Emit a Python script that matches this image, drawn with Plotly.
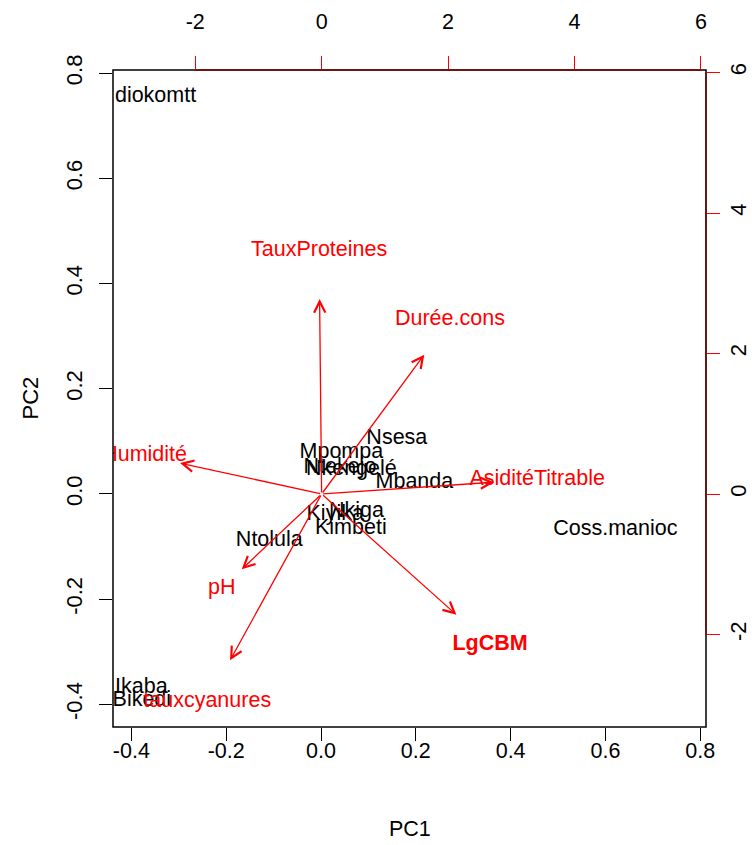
import plotly.graph_objects as go

# Observation scores (PC1, PC2)
obs_names = ["diokomtt", "Nsesa", "Mpompa", "Ntekejo", "Nkengelé", "Mbanda",
             "Kiyika", "Nkiga", "Kimbeti", "Ntolula", "Coss.manioc", "Ikaba", "Bikedi"]
pc1 = [-0.349, 0.160, 0.043, 0.040, 0.064, 0.197, 0.030, 0.075, 0.063, -0.109, 0.621, -0.379, -0.378]
pc2 = [0.756, 0.106, 0.078, 0.051, 0.047, 0.021, -0.040, -0.034, -0.065, -0.089, -0.068, -0.368, -0.393]

# Variable loadings (scaled, top/right axes)
var_names = ["TauxProteines", "Durée.cons", "Humidité", "AsiditéTitrable", "pH", "tauxcyanures", "<b>LgCBM</b>"]
load1 = [-0.04, 2.03, -2.80, 3.41, -1.58, -1.81, 2.665]
load2 = [3.47, 2.48, 0.55, 0.21, -1.34, -2.96, -2.15]
arrow_frac = 0.8

bottom_ticks = [-0.4, -0.2, 0.0, 0.2, 0.4, 0.6, 0.8]
left_ticks = [-0.4, -0.2, 0.0, 0.2, 0.4, 0.6, 0.8]
top_ticks = [-2, 0, 2, 4, 6]
right_ticks = [-2, 0, 2, 4, 6]

FONT = "Liberation Sans, Arial, sans-serif"
FS = 21.5
FSR = 22

fig = go.Figure()
fig.add_trace(go.Scatter(x=pc1, y=pc2, mode="text", text=obs_names,
                         textposition="middle center",
                         textfont=dict(family=FONT, size=FS, color="black"),
                         cliponaxis=True, showlegend=False, hoverinfo="skip"))
fig.add_trace(go.Scatter(x=load1, y=load2, mode="text", text=var_names,
                         xaxis="x2", yaxis="y2",
                         textposition="middle center",
                         textfont=dict(family=FONT, size=FS, color="#ff0000"),
                         cliponaxis=True, showlegend=False, hoverinfo="skip"))

for a, b in zip(load1, load2):
    fig.add_annotation(x=a * arrow_frac, y=b * arrow_frac, ax=0, ay=0,
                       xref="x2", yref="y2", axref="x2", ayref="y2",
                       text="", showarrow=True, arrowhead=5, arrowsize=1.7,
                       arrowwidth=1.3, arrowcolor="#ff0000", standoff=0, startstandoff=0)

axis_common = dict(showgrid=False, zeroline=False, showline=False, ticks="outside",
                   ticklen=13, tickwidth=1.2, automargin=False)

# page body has an 8px margin, so the figure is 8px smaller than the window
fig.update_layout(
    width=747, height=837,
    margin=dict(l=105, r=49, t=62, b=118),
    paper_bgcolor="white", plot_bgcolor="white",
    xaxis=dict(range=[-0.4388, 0.8122], tickvals=bottom_ticks,
               ticktext=[f"{v:.1f}" for v in bottom_ticks], tickcolor="black",
               tickfont=dict(family=FONT, size=FS, color="black"), ticklabelstandoff=-9,
               **axis_common),
    yaxis=dict(range=[-0.443, 0.806], tickvals=left_ticks,
               ticktext=[f"{v:.1f}" for v in left_ticks], tickcolor="black", tickangle=-90,
               tickfont=dict(family=FONT, size=FSR, color="black"), ticklabelstandoff=8,
               **axis_common),
    xaxis2=dict(range=[-3.30, 6.08], overlaying="x", side="top", anchor="y",
                tickvals=top_ticks, ticktext=[str(v) for v in top_ticks], tickcolor="#ff0000",
                tickfont=dict(family=FONT, size=FS, color="black"), ticklabelstandoff=18,
                **axis_common),
    yaxis2=dict(range=[-3.317, 6.036], overlaying="y", side="right", anchor="x",
                tickvals=right_ticks, ticktext=[str(v) for v in right_ticks], tickcolor="#ff0000",
                tickangle=-90, tickfont=dict(family=FONT, size=FSR, color="black"),
                **axis_common),
)

# axis titles
fig.add_annotation(text="PC1", xref="paper", yref="paper", x=0.5, y=0, yshift=-102,
                   showarrow=False, xanchor="center", yanchor="middle",
                   font=dict(family=FONT, size=FS, color="black"))
fig.add_annotation(text="PC2", xref="paper", yref="paper", x=0, y=0.5, xshift=-83,
                   showarrow=False, xanchor="center", yanchor="middle", textangle=-90,
                   font=dict(family=FONT, size=FSR, color="black"))

# plot box
fig.add_shape(type="rect", xref="paper", yref="paper", x0=0, x1=1, y0=0, y1=1,
              line=dict(color="black", width=1.5), fillcolor="rgba(0,0,0,0)")
# red axis lines of the secondary axes (over the box)
fig.add_shape(type="line", xref="x2", yref="paper", x0=top_ticks[0], x1=top_ticks[-1], y0=1, y1=1,
              line=dict(color="#7a0a0a", width=1.5))
fig.add_shape(type="line", xref="paper", yref="y2", x0=1, x1=1, y0=right_ticks[0], y1=right_ticks[-1],
              line=dict(color="#7a0a0a", width=1.5))

fig.write_html("out.html")
